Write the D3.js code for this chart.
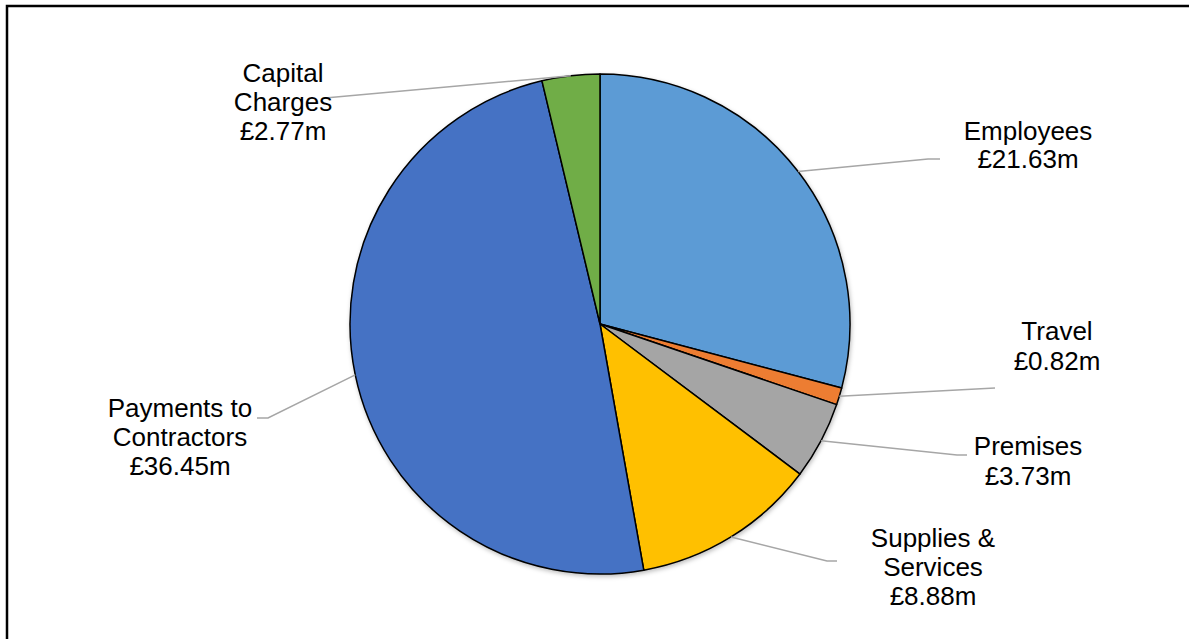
<!DOCTYPE html>
<html>
<head>
<meta charset="utf-8">
<script src="https://cdn.jsdelivr.net/npm/d3@7"></script>
<style>
  html, body { margin: 0; padding: 0; background: #fff; overflow: hidden; }
  svg { display: block; }
  text { font-family: "Liberation Sans", Arial, sans-serif; fill: #000; }
</style>
</head>
<body>
<svg id="chart" width="1189" height="639"></svg>
<script>
// Expenditure breakdown, £ millions
const categories = ["Employees", "Travel", "Premises", "Supplies & Services", "Payments to Contractors", "Capital Charges"];
const values = [21.63, 0.82, 3.73, 8.88, 36.45, 2.77];
const valueLabels = ["£21.63m", "£0.82m", "£3.73m", "£8.88m", "£36.45m", "£2.77m"];
// Label text split over lines
const labelLines = [
  ["Employees", "£21.63m"],
  ["Travel", "£0.82m"],
  ["Premises", "£3.73m"],
  ["Supplies &", "Services", "£8.88m"],
  ["Payments to", "Contractors", "£36.45m"],
  ["Capital", "Charges", "£2.77m"]
];
const colors = ["#5B9BD5", "#ED7D31", "#A5A5A5", "#FFC000", "#4472C4", "#70AD47"];

// Layout
const cx = 600, cy = 324, radius = 250;
const fontSize = 26;
// Label anchor (centre x, first baseline) and leader elbow/end points
const labelPos = [
  { x: 1028, y: 140, gap: 28, elbow: [928, 159], end: [940, 159] },
  { x: 1057, y: 340, gap: 30, elbow: [995, 388], end: [995, 388] },
  { x: 1028, y: 455, gap: 30, elbow: [957, 455], end: [967, 455] },
  { x: 933, y: 547, gap: 29, elbow: [827, 561], end: [837, 561] },
  { x: 180, y: 417, gap: 29, elbow: [268, 418], end: [257, 418] },
  { x: 283, y: 82, gap: 29, elbow: [325, 98], end: [325, 98] }
];

const svg = d3.select("#chart");

// Outer frame
svg.append("rect")
  .attr("x", 7).attr("y", 6)
  .attr("width", 1300).attr("height", 800)
  .attr("fill", "none")
  .attr("stroke", "#000")
  .attr("stroke-width", 2.5);

const defs = svg.append("defs");
const shadow = defs.append("filter").attr("id", "pieShadow")
  .attr("x", "-10%").attr("y", "-10%").attr("width", "120%").attr("height", "120%");
shadow.append("feDropShadow")
  .attr("dx", 1).attr("dy", 2).attr("stdDeviation", 2)
  .attr("flood-color", "#000").attr("flood-opacity", 0.25);

const pie = d3.pie().sort(null).value(d => d);
const arcs = pie(values);
const arc = d3.arc().innerRadius(0).outerRadius(radius);

const g = svg.append("g").attr("transform", `translate(${cx},${cy})`);

g.append("g").attr("filter", "url(#pieShadow)")
  .selectAll("path")
  .data(arcs)
  .join("path")
  .attr("d", arc)
  .attr("fill", (d, i) => colors[i])
  .attr("stroke", "#000")
  .attr("stroke-width", 1.5)
  .attr("stroke-linejoin", "round");

// Leader lines from slice mid-point on the rim to the label
const line = d3.line();
svg.append("g").selectAll("path")
  .data(arcs)
  .join("path")
  .attr("d", (d, i) => {
    const a = (d.startAngle + d.endAngle) / 2;
    const start = [cx + radius * Math.sin(a), cy - radius * Math.cos(a)];
    const p = labelPos[i];
    return line([start, p.elbow, p.end]);
  })
  .attr("fill", "none")
  .attr("stroke", "#A6A6A6")
  .attr("stroke-width", 1.5);

// Labels
const labels = svg.append("g").selectAll("text")
  .data(arcs)
  .join("text")
  .attr("text-anchor", "middle")
  .attr("font-size", fontSize)
  .attr("x", (d, i) => labelPos[i].x)
  .attr("y", (d, i) => labelPos[i].y);

labels.selectAll("tspan")
  .data((d, i) => labelLines[i].map((t, k) => ({ t, k, i })))
  .join("tspan")
  .attr("x", d => labelPos[d.i].x)
  .attr("y", d => labelPos[d.i].y + d.k * labelPos[d.i].gap)
  .text(d => d.t);
</script>
</body>
</html>
